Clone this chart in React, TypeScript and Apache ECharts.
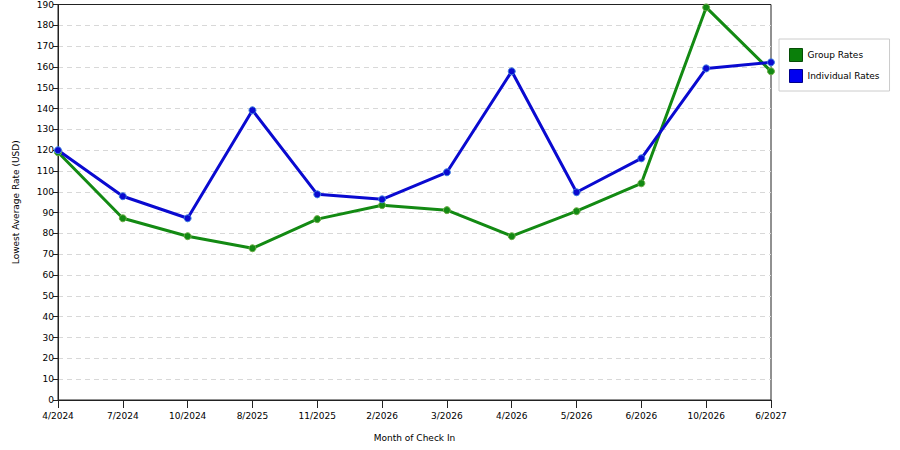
import React, { useEffect, useRef } from 'react';
import * as echarts from 'echarts';

// 入住月份
const months = [
  '4/2024', '7/2024', '10/2024', '8/2025', '11/2025', '2/2026',
  '3/2026', '4/2026', '5/2026', '6/2026', '10/2026', '6/2027'
];

// 团体价
const groupRates = [119, 87.3, 78.7, 72.9, 86.9, 93.6, 91.2, 78.7, 90.7, 104.1, 188.6, 157.9];

// 个人价
const individualRates = [120, 97.9, 87.3, 139.2, 98.8, 96.4, 109.4, 157.9, 99.8, 116.1, 159.3, 162.2];

const FONT = 'DejaVu Sans, Verdana, sans-serif';

const App: React.FC = () => {
  const chartRef = useRef<HTMLDivElement>(null);

  useEffect(() => {
    if (!chartRef.current) return;
    const chart = echarts.init(chartRef.current, null, { renderer: 'svg' });

    const seriesStyle = (name: string, data: number[], color: string, edge: string) => ({
      name,
      type: 'line',
      data,
      symbol: 'circle',
      symbolSize: 7,
      lineStyle: { color, width: 3 },
      itemStyle: { color, borderColor: edge, borderWidth: 1 },
      emphasis: { disabled: true }
    });

    chart.setOption({
      animation: false,
      backgroundColor: '#fff',
      textStyle: { fontFamily: FONT },
      grid: {
        left: 58,
        right: 129,
        top: 4,
        bottom: 50,
        show: true,
        borderColor: '#222',
        borderWidth: 1,
        containLabel: false
      },
      legend: {
        orient: 'vertical',
        left: 779,
        top: 39,
        padding: [9, 10, 8, 10],
        itemGap: 7,
        itemWidth: 13,
        itemHeight: 13,
        icon: 'rect',
        borderColor: '#ccc',
        borderWidth: 1,
        textStyle: { fontSize: 9, color: '#000', fontFamily: FONT },
        data: [
          { name: 'Group Rates', itemStyle: { color: '#0a7f0a', borderColor: '#064d06', borderWidth: 1 } },
          { name: 'Individual Rates', itemStyle: { color: '#0000f0', borderColor: '#00008a', borderWidth: 1 } }
        ]
      },
      xAxis: {
        type: 'category',
        data: months,
        boundaryGap: false,
        name: 'Month of Check In',
        nameLocation: 'middle',
        nameGap: 33,
        nameTextStyle: { fontSize: 9, color: '#000' },
        axisLine: { lineStyle: { color: '#222' } },
        axisTick: { alignWithLabel: true, length: 8, lineStyle: { color: '#222' } },
        axisLabel: { fontSize: 9, color: '#000', margin: 11, interval: 0 },
        splitLine: { show: false }
      },
      yAxis: {
        type: 'value',
        min: 0,
        max: 190,
        interval: 10,
        name: 'Lowest Average Rate (USD)',
        nameLocation: 'middle',
        nameGap: 38,
        nameTextStyle: { fontSize: 9, color: '#000' },
        axisLine: { show: true, lineStyle: { color: '#222' } },
        axisTick: { show: true, length: 5, lineStyle: { color: '#222' } },
        axisLabel: { fontSize: 9, color: '#000', margin: 4 },
        splitLine: {
          showMaxLine: false,
          showMinLine: false,
          lineStyle: { color: '#d8d8d8', type: [5, 4] }
        }
      },
      series: [
        seriesStyle('Group Rates', groupRates, '#138a13', '#6fae4a'),
        seriesStyle('Individual Rates', individualRates, '#0a0ad0', '#3f7fe0')
      ]
    });

    return () => {
      chart.dispose();
    };
  }, []);

  return (
    <div
      ref={chartRef}
      style={{ position: 'fixed', left: 0, top: 0, width: 900, height: 450 }}
    />
  );
};

export default App;
